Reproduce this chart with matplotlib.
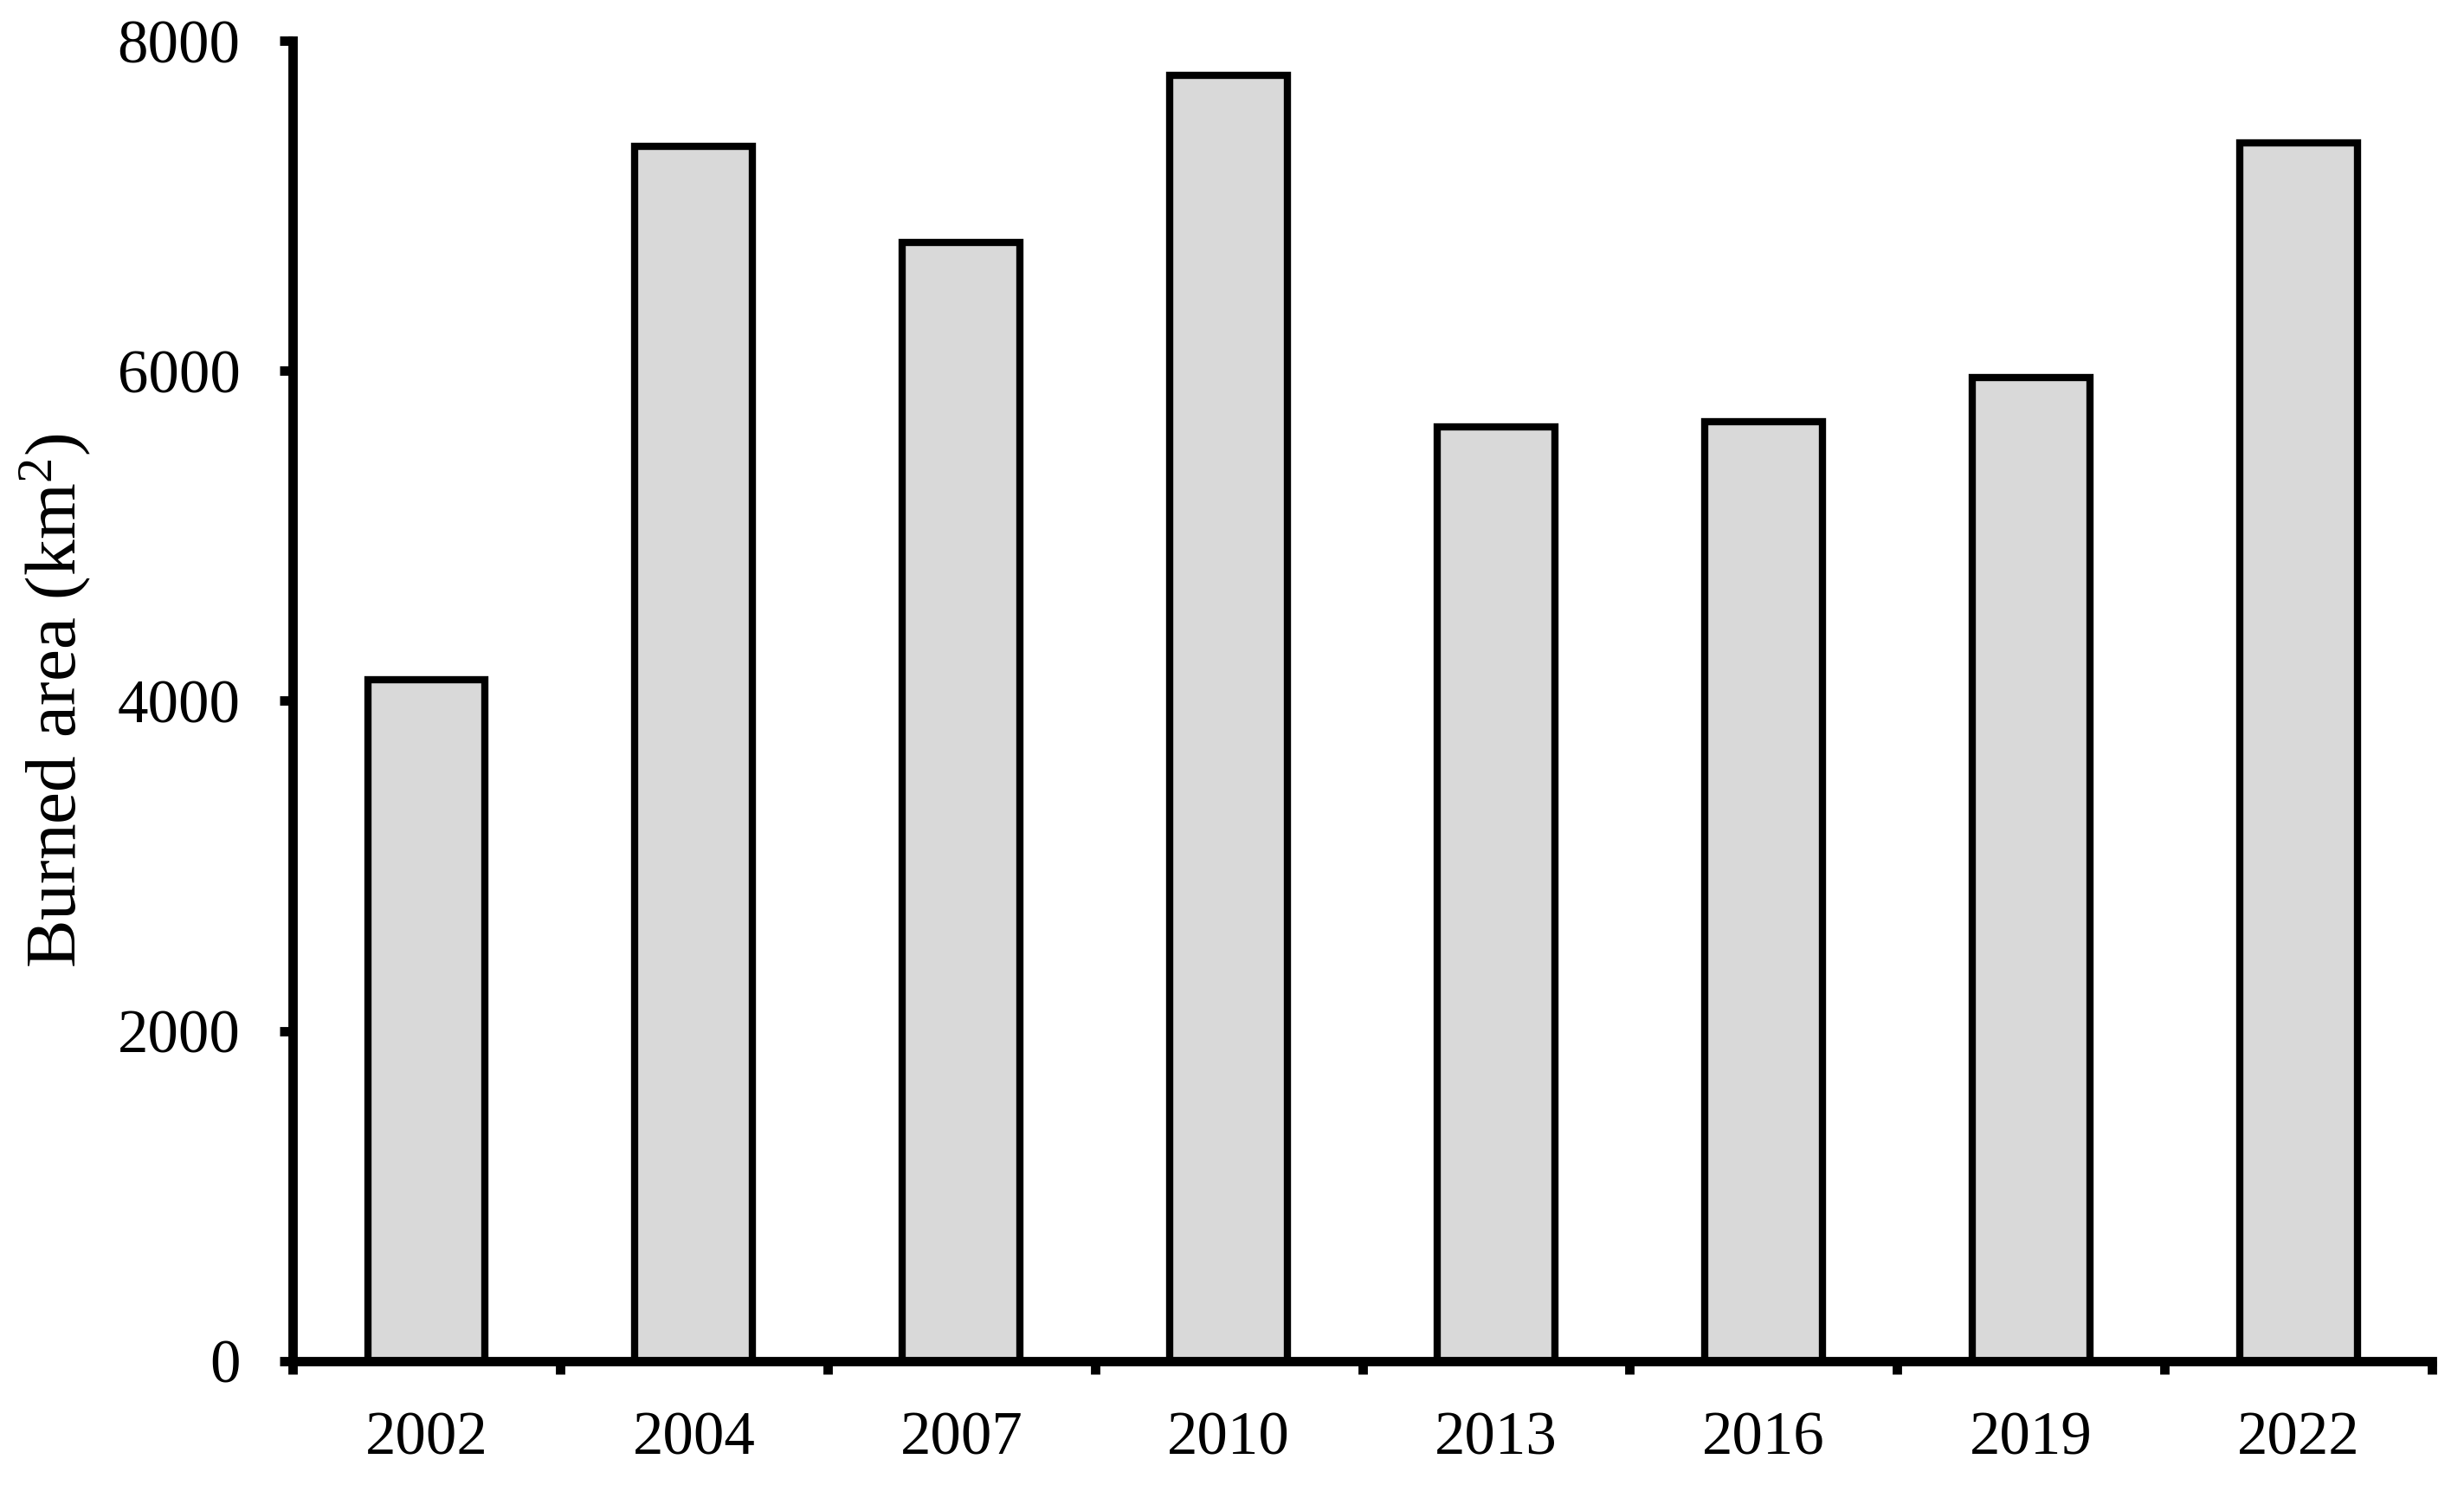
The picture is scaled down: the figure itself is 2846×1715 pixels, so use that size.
import matplotlib.pyplot as plt
import numpy as np

# Burned area per survey year (km2)
years = ['2002', '2004', '2007', '2010', '2013', '2016', '2019', '2022']
burned_area = [4130, 7360, 6780, 7790, 5660, 5690, 5960, 7380]

plt.rcParams['font.family'] = ['Liberation Serif', 'DejaVu Serif']
plt.rcParams['mathtext.fontset'] = 'custom'
plt.rcParams['mathtext.rm'] = 'Liberation Serif'

fig = plt.figure(figsize=(2846 / 300, 1715 / 300), dpi=300)
ax = fig.add_axes([0.1188, 0.0836, 0.9870 - 0.1188, 0.9725 - 0.0836])

pos = np.arange(len(years))
ax.bar(pos, burned_area, width=0.44, color='#d9d9d9', edgecolor='black', linewidth=2.0)

ax.set_xlim(-0.5, len(years) - 0.5)
ax.set_ylim(0, 8000)
ax.set_yticks([0, 2000, 4000, 6000, 8000])

# major ticks sit between the bars, labels go on the bar centres
ax.set_xticks(np.arange(len(years) + 1) - 0.5)
ax.set_xticklabels([])
ax.set_xticks(pos, minor=True)
ax.set_xticklabels(years, minor=True)

ax.spines['top'].set_visible(False)
ax.spines['right'].set_visible(False)
for s in ['left', 'bottom']:
    ax.spines[s].set_linewidth(2.6)

ax.tick_params(axis='both', which='major', direction='out', length=3.5, width=2.6, labelsize=17)
ax.tick_params(axis='y', pad=11)
ax.tick_params(axis='x', which='minor', length=0, pad=14, labelsize=17)

ax.set_ylabel(r'Burned area (km$\mathrm{^2}$)', fontsize=20, labelpad=7)

fig.savefig('out.png', dpi=300)
